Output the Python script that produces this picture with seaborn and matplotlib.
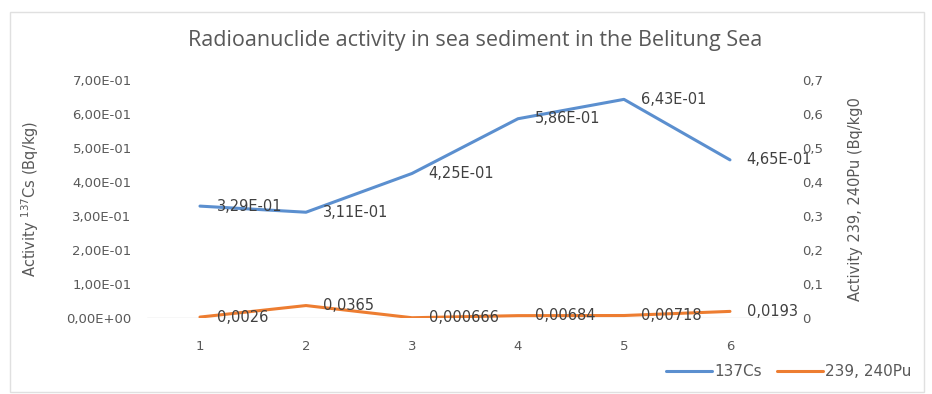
import matplotlib
matplotlib.use("Agg")
import matplotlib.pyplot as plt
from matplotlib.patches import Rectangle
import seaborn as sns
import pandas as pd

# Sampling stations and measured activities
stations = [1, 2, 3, 4, 5, 6]
cs137 = [0.329, 0.311, 0.425, 0.586, 0.643, 0.465]
pu239_240 = [0.0026, 0.0365, 0.000666, 0.00684, 0.00718, 0.0193]
cs_labels = ["3,29E-01", "3,11E-01", "4,25E-01", "5,86E-01", "6,43E-01", "4,65E-01"]
pu_labels = ["0,0026", "0,0365", "0,000666", "0,00684", "0,00718", "0,0193"]
left_ticks = [0.0, 0.1, 0.2, 0.3, 0.4, 0.5, 0.6, 0.7]
left_ticklabels = ["0,00E+00", "1,00E-01", "2,00E-01", "3,00E-01", "4,00E-01",
                   "5,00E-01", "6,00E-01", "7,00E-01"]
right_ticklabels = ["0", "0,1", "0,2", "0,3", "0,4", "0,5", "0,6", "0,7"]

sns.set_theme(style="white")
plt.rcParams["font.family"] = ["DejaVu Sans"]

BLUE = "#5B8FCF"
ORANGE = "#ED7D31"
TEXT = "#595959"
LABEL = "#404040"

df = pd.DataFrame({"station": stations, "cs": cs137, "pu": pu239_240})

fig = plt.figure(figsize=(9.32, 3.94), dpi=100)
ax = fig.add_axes([0.1577, 0.193, 0.6824, 0.604])
ax2 = ax.twinx()

sns.lineplot(data=df, x="station", y="cs", ax=ax, color=BLUE, linewidth=2.2,
             label="137Cs", legend=False)
sns.lineplot(data=df, x="station", y="pu", ax=ax2, color=ORANGE, linewidth=2.2,
             label="239, 240Pu", legend=False)

for a in (ax, ax2):
    a.set_xlim(0.5, 6.5)
    a.set_ylim(0, 0.7)
    for s in a.spines.values():
        s.set_visible(False)

ax.set_yticks(left_ticks)
ax.set_yticklabels(left_ticklabels)
ax2.set_yticks(left_ticks)
ax2.set_yticklabels(right_ticklabels)
ax.set_xticks(stations)
ax.tick_params(axis="y", length=0, labelsize=9.5, labelcolor=TEXT, pad=11)
ax.tick_params(axis="x", length=0, labelsize=9.5, labelcolor=TEXT, pad=16)
ax2.tick_params(axis="y", length=0, labelsize=9.5, labelcolor=TEXT, pad=14)
ax.axhline(0, color="#D9D9D9", linewidth=1, zorder=0)

ax.set_xlabel("")
ax.set_ylabel("Activity $^{137}$Cs (Bq/kg)", color=TEXT, fontsize=10.5)
ax2.set_ylabel("Activity 239, 240Pu (Bq/kg0", color=TEXT, fontsize=10.5)
ax.yaxis.set_label_coords(-0.167, 0.5)
ax2.yaxis.set_label_coords(1.102, 0.5)

# Data labels to the right of each point
for x, y, t in zip(stations, cs137, cs_labels):
    ax.annotate(t, (x, y), xytext=(12, 0), textcoords="offset points",
                ha="left", va="center", fontsize=10.5, color=LABEL)
for x, y, t in zip(stations, pu239_240, pu_labels):
    ax2.annotate(t, (x, y), xytext=(12, 0), textcoords="offset points",
                 ha="left", va="center", fontsize=10.5, color=LABEL)

fig.text(0.51, 0.898, "Radioanuclide activity in sea sediment in the Belitung Sea",
         ha="center", va="center", fontsize=15.5, color=TEXT, family="Open Sans")

handles = ax.get_lines()[:1] + ax2.get_lines()[:1]
fig.legend(handles, ["137Cs", "239, 240Pu"], loc="center", bbox_to_anchor=(0.846, 0.056),
           ncol=2, frameon=False, fontsize=11, labelcolor=TEXT, handlelength=3.0,
           columnspacing=1.0, handletextpad=0.15, borderpad=0.2)

fig.patches.append(Rectangle((10 / 932, 2 / 394), 914 / 932, 380 / 394,
                             transform=fig.transFigure, fill=False,
                             edgecolor="#E0E0E0", linewidth=1))

fig.savefig("out.png", dpi=100)
